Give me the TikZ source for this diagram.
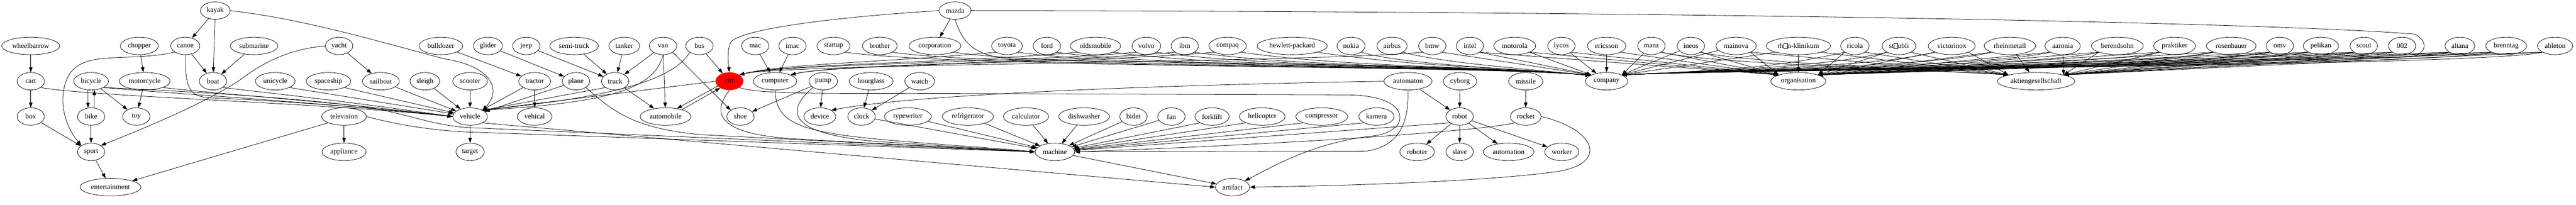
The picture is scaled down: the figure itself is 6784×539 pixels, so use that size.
\documentclass[tikz,border=0pt]{standalone}
\usepackage{fontspec}
\setmainfont{Liberation Serif}
\usepackage{tikz}
\usetikzlibrary{shapes.geometric, arrows.meta}
\newcommand{\nochar}{\raisebox{-0.5pt}{\setlength{\fboxsep}{0pt}\setlength{\fboxrule}{0.5pt}\fbox{\rule{0pt}{10pt}\rule{7pt}{0pt}}}}

\begin{document}
\begin{tikzpicture}[x=0.75pt, y=-0.75pt,
    word/.style={ellipse, draw=black, line width=0.8pt, minimum width=54pt, minimum height=34.5pt,
                 inner xsep=4pt, inner ysep=2pt, font=\fontsize{14}{16}\selectfont},
    hit/.style={word, draw=red, fill=red},
    link/.style={-{Triangle[length=10pt, width=7pt]}, line width=0.8pt}]
  \useasboundingbox (0,0) rectangle (6784,539);

  % first row
  \node[word] (kayak) at (567,28) {kayak};
  \node[word] (mazda) at (2515,28) {mazda};

  % second row
  \node[word] (wheelbarrow) at (81,121) {wheelbarrow};
  \node[word] (chopper) at (367,121) {chopper};
  \node[word] (canoe) at (488,121) {canoe};
  \node[word] (submarine) at (669,121) {submarine};
  \node[word] (yacht) at (893,121) {yacht};
  \node[word] (bulldozer) at (1161,121) {bulldozer};
  \node[word] (glider) at (1285,121) {glider};
  \node[word] (jeep) at (1386,121) {jeep};
  \node[word] (semitruck) at (1512,121) {semi-truck};
  \node[word] (tanker) at (1644,121) {tanker};
  \node[word] (van) at (1746,121) {van};
  \node[word] (bus) at (1842,121) {bus};
  \node[word] (mac) at (1989,121) {mac};
  \node[word] (imac) at (2087,121) {imac};
  \node[word] (startup) at (2195,121) {startup};
  \node[word] (brother) at (2317,121) {brother};
  \node[word] (corporation) at (2462,121) {corporation};
  \node[word] (toyota) at (2652,121) {toyota};
  \node[word] (ford) at (2757,121) {ford};
  \node[word] (oldsmobile) at (2885,121) {oldsmobile};
  \node[word] (volvo) at (3019,121) {volvo};
  \node[word] (ibm) at (3120,121) {ibm};
  \node[word] (compaq) at (3233,121) {compaq};
  \node[word] (hp) at (3403,121) {hewlett-packard};
  \node[word] (nokia) at (3558,121) {nokia};
  \node[word] (airbus) at (3666,121) {airbus};
  \node[word] (bmw) at (3772,121) {bmw};
  \node[word] (intel) at (3871,121) {intel};
  \node[word] (motorola) at (3989,121) {motorola};
  \node[word] (lycos) at (4112,121) {lycos};
  \node[word] (ericsson) at (4231,121) {ericsson};
  \node[word] (manz) at (4349,121) {manz};
  \node[word] (ineos) at (4453,121) {ineos};
  \node[word] (mainova) at (4572,121) {mainova};
  \node[word] (rhoen) at (4736,121) {rh\nochar n-klinikum};
  \node[word] (ricola) at (4885,121) {ricola};
  \node[word] (staeubli) at (5001,121) {st\nochar ubli};
  \node[word] (victorinox) at (5140,121) {victorinox};
  \node[word] (rheinmetall) at (5293,121) {rheinmetall};
  \node[word] (aaronia) at (5432,121) {aaronia};
  \node[word] (berendsohn) at (5576,121) {berendsohn};
  \node[word] (praktiker) at (5727,121) {praktiker};
  \node[word] (rosenbauer) at (5876,121) {rosenbauer};
  \node[word] (omv) at (6004,121) {omv};
  \node[word] (pelikan) at (6112,121) {pelikan};
  \node[word] (scout) at (6225,121) {scout};
  \node[word] (n002) at (6326,121) {002};
  \node[word] (altana) at (6478,121) {altana};
  \node[word] (brenntag) at (6600,121) {brenntag};
  \node[word] (ableton) at (6729,121) {ableton};

  % third row
  \node[word] (cart) at (81,214) {cart};
  \node[word] (bicycle) at (240,214) {bicycle};
  \node[word] (motorcycle) at (381,214) {motorcycle};
  \node[word] (boat) at (561,214) {boat};
  \node[word] (unicycle) at (725,214) {unicycle};
  \node[word] (spaceship) at (865,214) {spaceship};
  \node[word] (sailboat) at (1003,214) {sailboat};
  \node[word] (sleigh) at (1119,214) {sleigh};
  \node[word] (scooter) at (1238,214) {scooter};
  \node[word] (tractor) at (1408,214) {tractor};
  \node[word] (plane) at (1517,214) {plane};
  \node[word] (truck) at (1620,214) {truck};
  \node[hit] (car) at (1921,214) {car};
  \node[word] (computer) at (2041,214) {computer};
  \node[word] (pump) at (2168,214) {pump};
  \node[word] (hourglass) at (2294,214) {hourglass};
  \node[word] (watch) at (2422,214) {watch};
  \node[word] (automaton) at (3708,214) {automaton};
  \node[word] (cyborg) at (3845,214) {cyborg};
  \node[word] (missile) at (4018,214) {missile};
  \node[word] (company) at (4231,214) {company};
  \node[word] (organisation) at (4736,214) {organisation};
  \node[word] (aktiengesellschaft) at (5362,214) {aktiengesellschaft};

  % fourth row
  \node[word] (box) at (81,307) {box};
  \node[word] (bike) at (240,307) {bike};
  \node[word] (toy) at (359,307) {toy};
  \node[word] (television) at (906,307) {television};
  \node[word] (vehicle) at (1238,307) {vehicle};
  \node[word] (vehical) at (1408,307) {vehical};
  \node[word] (automobile) at (1753,307) {automobile};
  \node[word] (shoe) at (1950,307) {shoe};
  \node[word] (device) at (2159,307) {device};
  \node[word] (clock) at (2269,307) {clock};
  \node[word] (typewriter) at (2391,307) {typewriter};
  \node[word] (refrigerator) at (2549,307) {refrigerator};
  \node[word] (calculator) at (2702,307) {calculator};
  \node[word] (dishwasher) at (2855,307) {dishwasher};
  \node[word] (bidet) at (2985,307) {bidet};
  \node[word] (fan) at (3085,307) {fan};
  \node[word] (forklift) at (3192,307) {forklift};
  \node[word] (helicopter) at (3324,307) {helicopter};
  \node[word] (compressor) at (3481,307) {compressor};
  \node[word] (kamera) at (3625,307) {kamera};
  \node[word] (robot) at (3844,307) {robot};
  \node[word] (rocket) at (4018,307) {rocket};

  % fifth and sixth row
  \node[word] (sport) at (240,400) {sport};
  \node[word] (appliance) at (906,400) {appliance};
  \node[word] (target) at (1238,400) {target};
  \node[word] (machine) at (2778,400) {machine};
  \node[word] (roboter) at (3732,400) {roboter};
  \node[word] (slave) at (3844,400) {slave};
  \node[word] (automation) at (3973,400) {automation};
  \node[word] (worker) at (4113,400) {worker};
  \node[word] (entertainment) at (291,493) {entertainment};
  \node[word] (artifact) at (3246,493) {artifact};

  % boats, bikes and carts
  \draw[link] (kayak) -- (canoe);
  \draw[link] (kayak) -- (boat);
  \draw[link] (kayak.east) .. controls (800,50) and (1000,110) .. (1170,155) .. controls (1300,175) and (1320,240) .. (vehicle.north east);
  \draw[link] (wheelbarrow) -- (cart);
  \draw[link] (chopper) -- (motorcycle);
  \draw[link] (canoe) -- (boat);
  \draw[link] (canoe.south west) .. controls (330,165) and (220,130) .. (180,200) .. controls (150,260) and (170,330) .. (sport.north west);
  \draw[link] (canoe.south) .. controls (488,240) and (500,255) .. (560,258) .. controls (800,268) and (1100,295) .. (vehicle.west);
  \draw[link] (submarine) -- (boat);
  \draw[link] (yacht) -- (sailboat);
  \draw[link] (yacht.west) .. controls (750,130) and (680,175) .. (640,205) .. controls (560,262) and (400,330) .. (sport.north east);
  \draw[link] (cart) -- (box);
  \draw[link] (cart.south east) .. controls (250,255) and (800,268) .. (vehicle.west);
  \draw[link] (bicycle.250) -- (bike.110);
  \draw[link] (bike.70) -- (bicycle.290);
  \draw[link] (bicycle) -- (toy);
  \draw[link] (bicycle.south east) .. controls (500,250) and (800,266) .. (vehicle.west);
  \draw[link] (bicycle.south east) .. controls (500,240) and (850,262) .. (1000,288) .. controls (1100,310) and (1150,330) .. (1230,336) -- (machine.west);
  \draw[link] (motorcycle) -- (toy);
  \draw[link] (motorcycle.south east) .. controls (600,250) and (850,265) .. (vehicle.west);
  \draw[link] (boat.south east) .. controls (750,250) and (900,265) .. (vehicle.west);
  \draw[link] (unicycle.south east) -- (vehicle);
  \draw[link] (spaceship.south east) -- (vehicle);
  \draw[link] (sailboat) -- (vehicle);
  \draw[link] (sleigh) -- (vehicle);
  \draw[link] (box) -- (sport);
  \draw[link] (bike) -- (sport);
  \draw[link] (sport) -- (entertainment);
  \draw[link] (television) -- (appliance);
  \draw[link] (television.south west) -- (entertainment.north east);
  \draw[link] (television.east) .. controls (1050,330) and (1150,345) .. (1240,348) -- (machine.west);

  % trucks, planes and cars
  \draw[link] (bulldozer) -- (tractor);
  \draw[link] (glider) -- (plane);
  \draw[link] (jeep) -- (truck);
  \draw[link] (semitruck) -- (truck);
  \draw[link] (tanker) -- (truck);
  \draw[link] (van) -- (truck);
  \draw[link] (van) -- (automobile);
  \draw[link] (van.south) .. controls (1725,235) and (1600,270) .. (vehicle.north east);
  \draw[link] (van.south east) -- (shoe.north west);
  \draw[link] (bus) -- (car);
  \draw[link] (bus.south west) .. controls (1760,240) and (1450,270) .. (vehicle.north east);
  \draw[link] (scooter) -- (vehicle);
  \draw[link] (tractor) -- (vehicle);
  \draw[link] (tractor) -- (vehical);
  \draw[link] (plane) -- (vehicle);
  \draw[link] (plane.south east) .. controls (1620,300) and (1680,340) .. (1850,355) -- (machine.west);
  \draw[link] (truck.south west) -- (vehicle.north east);
  \draw[link] (truck) -- (automobile);
  \draw[link] (vehicle) -- (target);
  \draw[link] (vehicle.south east) -- (artifact.west);
  \draw[link] (car.west) -- (vehicle.north east);
  \draw[link] (car.202) -- (automobile.35);
  \draw[link] (automobile.23) -- (car.216);
  \draw[link] (car.south) .. controls (1880,290) and (1875,350) .. (2080,365) .. controls (2300,378) and (2600,392) .. (machine.west);
  \draw[link] (car.south east) .. controls (1990,245) and (2100,247) .. (2400,246) -- (3550,250) .. controls (3680,252) and (3700,300) .. (3680,330) .. controls (3660,350) and (3640,356) .. (3600,360) .. controls (3450,380) and (3350,440) .. (artifact.north east);

  % machines
  \draw[link] (mac) -- (computer);
  \draw[link] (imac) -- (computer);
  \draw[link] (computer.south) .. controls (2045,320) and (2090,348) .. (2350,370) .. controls (2500,383) and (2650,392) .. (machine.west);
  \draw[link] (pump) -- (shoe);
  \draw[link] (pump) -- (device);
  \draw[link] (pump.south west) .. controls (2070,290) and (2070,350) .. (2300,372) -- (machine.west);
  \draw[link] (hourglass) -- (clock);
  \draw[link] (watch) -- (clock);
  \draw[link] (clock) -- (machine);
  \draw[link] (typewriter) -- (machine);
  \draw[link] (refrigerator) -- (machine);
  \draw[link] (calculator) -- (machine);
  \draw[link] (dishwasher) -- (machine);
  \draw[link] (bidet) -- (machine);
  \draw[link] (fan) -- (machine);
  \draw[link] (forklift.south west) -- (machine);
  \draw[link] (helicopter.south west) -- (machine);
  \draw[link] (compressor.south west) -- (machine);
  \draw[link] (kamera.south west) -- (machine);
  \draw[link] (machine) -- (artifact);
  \draw[link] (automaton) -- (robot);
  \draw[link] (cyborg) -- (robot);
  \draw[link] (missile) -- (rocket);
  \draw[link] (automaton.west) .. controls (3000,225) and (2400,250) .. (device.north east);
  \draw[link] (automaton.south) .. controls (3711,330) and (3680,385) .. (3600,398) -- (machine.east);
  \draw[link] (robot) -- (roboter);
  \draw[link] (robot) -- (slave);
  \draw[link] (robot) -- (automation);
  \draw[link] (robot) -- (worker);
  \draw[link] (robot.south west) -- (machine);
  \draw[link] (rocket.south west) .. controls (3900,345) and (3400,380) .. (machine.east);
  \draw[link] (rocket.east) .. controls (4200,340) and (4240,430) .. (4100,452) .. controls (3900,480) and (3500,490) .. (artifact.east);

  % makers
  \draw[link] (mazda) -- (corporation);
  \draw[link] (mazda.west) .. controls (2200,45) and (1960,75) .. (1925,110) .. controls (1915,130) and (1917,160) .. (car.north);
  \draw[link] (mazda.south) .. controls (2535,110) and (2560,150) .. (2680,157) .. controls (3300,168) and (3900,172) .. (company.160);
  \draw[link] (mazda.east) .. controls (4500,30) and (6000,60) .. (6360,90) .. controls (6395,110) and (6392,140) .. (6350,150) -- (5900,162) -- (aktiengesellschaft.north east);
  \draw[link] (toyota.south west) .. controls (2321,165) and (2060,168) .. (car.north east);
  \draw[link] (oldsmobile.south west) .. controls (2541,165) and (2060,168) .. (car.north east);
  \draw[link] (volvo.south west) .. controls (2693,165) and (2060,168) .. (car.north east);
  \draw[link] (bmw.south west) .. controls (3446,165) and (2060,168) .. (car.north east);
  \draw[link] (ibm.south west) .. controls (2794,165) and (2200,168) .. (computer.north east);
  \draw[link] (compaq.south west) .. controls (2898,165) and (2200,168) .. (computer.north east);
  \draw[link] (startup.south east) .. controls (2529,180) and (3900,172) .. (company.160);
  \draw[link] (brother.south east) .. controls (2652,180) and (3900,172) .. (company.160);
  \draw[link] (corporation.south east) .. controls (2811,180) and (3900,172) .. (company.160);
  \draw[link] (toyota.south east) .. controls (2983,180) and (3900,172) .. (company.160);
  \draw[link] (ford.south east) .. controls (3082,180) and (3900,172) .. (company.160);
  \draw[link] (oldsmobile.south east) .. controls (3233,180) and (3900,172) .. (company.160);
  \draw[link] (volvo.south east) .. controls (3349,180) and (3900,172) .. (company.160);
  \draw[link] (ibm.south east) .. controls (3446,180) and (3900,172) .. (company.160);
  \draw[link] (compaq.south east) .. controls (3571,180) and (3900,172) .. (company.160);
  \draw[link] (hp.south east) .. controls (3767,180) and (3900,172) .. (company.160);
  \draw[link] (nokia.south east) .. controls (3700,170) and (3950,178) .. (company.160);
  \draw[link] (airbus.south east) .. controls (3800,165) and (3980,178) .. (company.160);
  \draw[link] (bmw.south east) -- (company.north west);
  \draw[link] (intel.south east) -- (company.north west);
  \draw[link] (motorola.south east) -- (company.north west);
  \draw[link] (lycos) -- (company);
  \draw[link] (ericsson) -- (company);
  \draw[link] (intel.south east) -- (organisation.north west);
  \draw[link] (motorola.south east) -- (organisation.north west);
  \draw[link] (lycos.south east) -- (organisation.north west);
  \draw[link] (ericsson.south east) -- (organisation.north west);

  % firms
  \draw[link] (manz) -- (company.north east);
  \draw[link] (manz.south east) -- (organisation.north west);
  \draw[link] (manz.south east) .. controls (4500,168) and (5100,185) .. (aktiengesellschaft.north west);
  \draw[link] (ineos) -- (company.north east);
  \draw[link] (ineos.south east) -- (organisation.north west);
  \draw[link] (ineos.south east) .. controls (4600,165) and (5100,185) .. (aktiengesellschaft.north west);
  \draw[link] (mainova) -- (company.north east);
  \draw[link] (mainova.south east) -- (organisation.north west);
  \draw[link] (mainova.south east) -- (aktiengesellschaft.north west);
  \draw[link] (rhoen.south west) -- (company.north east);
  \draw[link] (rhoen) -- (organisation);
  \draw[link] (rhoen.south east) -- (aktiengesellschaft.north west);
  \draw[link] (ricola.south west) .. controls (4685,175) and (4600,182) .. (company.north east);
  \draw[link] (ricola.south west) -- (organisation.north east);
  \draw[link] (ricola.south east) -- (aktiengesellschaft.north west);
  \draw[link] (staeubli.south west) .. controls (4801,175) and (4600,182) .. (company.north east);
  \draw[link] (staeubli.south west) -- (organisation.north east);
  \draw[link] (staeubli.south east) -- (aktiengesellschaft.north west);
  \draw[link] (victorinox.south west) .. controls (4940,175) and (4600,182) .. (company.north east);
  \draw[link] (victorinox.south west) -- (organisation.north east);
  \draw[link] (victorinox.south east) -- (aktiengesellschaft.north west);
  \draw[link] (rheinmetall.south west) .. controls (5093,175) and (4600,182) .. (company.north east);
  \draw[link] (rheinmetall.south west) -- (organisation.north east);
  \draw[link] (rheinmetall) -- (aktiengesellschaft);
  \draw[link] (aaronia.south west) .. controls (5232,175) and (4600,182) .. (company.north east);
  \draw[link] (aaronia.south west) -- (organisation.north east);
  \draw[link] (aaronia) -- (aktiengesellschaft.north east);
  \draw[link] (berendsohn.south west) .. controls (5376,175) and (4600,182) .. (company.north east);
  \draw[link] (berendsohn.south west) -- (organisation.north east);
  \draw[link] (berendsohn.south west) -- (aktiengesellschaft.north east);
  \draw[link] (praktiker.south west) .. controls (5527,175) and (4600,182) .. (company.north east);
  \draw[link] (praktiker.south west) -- (organisation.north east);
  \draw[link] (praktiker.south west) -- (aktiengesellschaft.north east);
  \draw[link] (rosenbauer.south west) .. controls (5676,175) and (4600,182) .. (company.north east);
  \draw[link] (rosenbauer.south west) -- (organisation.north east);
  \draw[link] (rosenbauer.south west) -- (aktiengesellschaft.north east);
  \draw[link] (omv.south west) .. controls (5804,175) and (4600,182) .. (company.north east);
  \draw[link] (omv.south west) -- (organisation.north east);
  \draw[link] (omv.south west) -- (aktiengesellschaft.north east);
  \draw[link] (pelikan.south west) .. controls (5912,175) and (4600,182) .. (company.north east);
  \draw[link] (pelikan.south west) -- (organisation.north east);
  \draw[link] (pelikan.south west) -- (aktiengesellschaft.north east);
  \draw[link] (scout.south west) .. controls (6025,175) and (4600,182) .. (company.north east);
  \draw[link] (scout.south west) -- (organisation.north east);
  \draw[link] (scout.south west) -- (aktiengesellschaft.north east);
  \draw[link] (n002.south west) .. controls (6126,175) and (4600,182) .. (company.north east);
  \draw[link] (n002.south west) -- (organisation.north east);
  \draw[link] (n002.south west) -- (aktiengesellschaft.north east);
  \draw[link] (altana.south west) .. controls (6278,175) and (4600,182) .. (company.north east);
  \draw[link] (altana.south west) -- (organisation.north east);
  \draw[link] (altana.south west) -- (aktiengesellschaft.north east);
  \draw[link] (brenntag.south west) .. controls (6400,175) and (4600,182) .. (company.north east);
  \draw[link] (brenntag.south west) -- (organisation.north east);
  \draw[link] (brenntag.south west) -- (aktiengesellschaft.north east);
  \draw[link] (ableton.south west) .. controls (6529,175) and (4600,182) .. (company.north east);
  \draw[link] (ableton.south west) -- (organisation.north east);
  \draw[link] (ableton.south west) -- (aktiengesellschaft.north east);
\end{tikzpicture}
\end{document}
